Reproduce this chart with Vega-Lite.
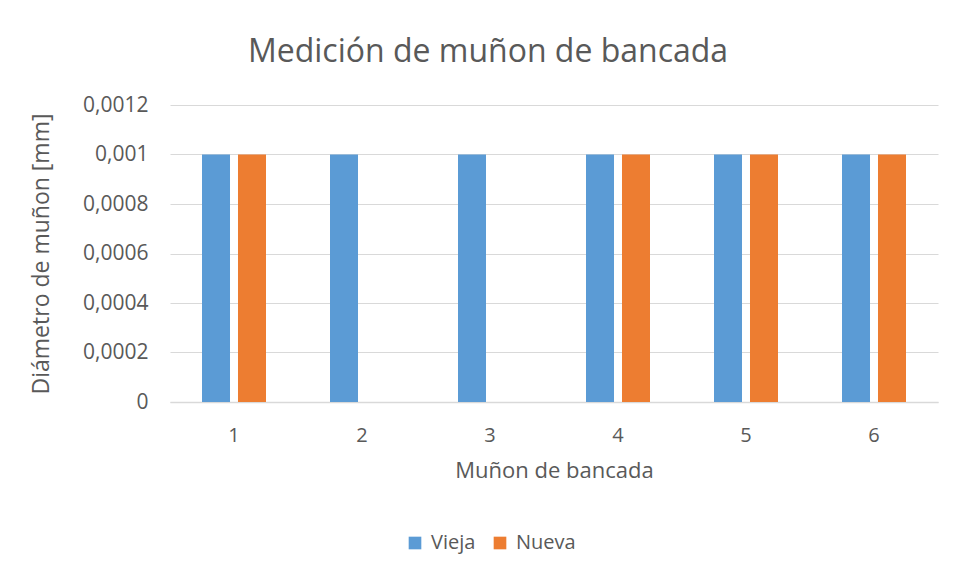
{
  "$schema": "https://vega.github.io/schema/vega-lite/v6.json",
  "autosize": {"type": "none"},
  "width": 768,
  "height": 297,
  "padding": {"left": 170, "top": 105, "right": 23, "bottom": 175},
  "background": "white",
  "title": {
    "text": "Medición de muñon de bancada",
    "fontSize": 32,
    "font": "Open Sans",
    "fontWeight": "normal",
    "color": "#595959",
    "anchor": "middle",
    "offset": 25,
    "dx": -66
  },
  "config": {
    "locale": {"number": {"decimal": ",", "thousands": ".", "grouping": [3], "currency": ["", " €"]}},
    "view": {"stroke": null},
    "font": "Open Sans"
  },
  "data": {
    "values": [
      {"muñon": "1", "serie": "Vieja", "valor": 0.001},
      {"muñon": "1", "serie": "Nueva", "valor": 0.001},
      {"muñon": "2", "serie": "Vieja", "valor": 0.001},
      {"muñon": "2", "serie": "Nueva", "valor": 0},
      {"muñon": "3", "serie": "Vieja", "valor": 0.001},
      {"muñon": "3", "serie": "Nueva", "valor": 0},
      {"muñon": "4", "serie": "Vieja", "valor": 0.001},
      {"muñon": "4", "serie": "Nueva", "valor": 0.001},
      {"muñon": "5", "serie": "Vieja", "valor": 0.001},
      {"muñon": "5", "serie": "Nueva", "valor": 0.001},
      {"muñon": "6", "serie": "Vieja", "valor": 0.001},
      {"muñon": "6", "serie": "Nueva", "valor": 0.001}
    ]
  },
  "mark": {"type": "bar"},
  "encoding": {
    "x": {
      "field": "muñon",
      "type": "nominal",
      "scale": {"paddingInner": 0.5, "paddingOuter": 0.25},
      "axis": {
        "title": "Muñon de bancada",
        "titleFontSize": 22,
        "titleFontWeight": "normal",
        "titleColor": "#595959",
        "titlePadding": 15,
        "labelAngle": 0,
        "labelFontSize": 20,
        "labelColor": "#595959",
        "labelPadding": 23,
        "ticks": false,
        "tickSize": 0,
        "domainColor": "#d9d9d9",
        "domainWidth": 1.5,
        "grid": false
      }
    },
    "xOffset": {
      "field": "serie",
      "type": "nominal",
      "sort": ["Vieja", "Nueva"],
      "scale": {"paddingInner": 0.222, "paddingOuter": 0}
    },
    "y": {
      "field": "valor",
      "type": "quantitative",
      "scale": {"domain": [0, 0.0012], "nice": false},
      "axis": {
        "title": "Diámetro de muñon [mm]",
        "titleFontSize": 23,
        "titleFontWeight": "normal",
        "titleColor": "#595959",
        "titlePadding": 29,
        "values": [0, 0.0002, 0.0004, 0.0006, 0.0008, 0.001, 0.0012],
        "format": ".4~f",
        "labelFontSize": 21,
        "labelColor": "#595959",
        "labelPadding": 22,
        "ticks": false,
        "tickSize": 0,
        "domain": false,
        "gridColor": "#d9d9d9",
        "gridWidth": 1
      }
    },
    "color": {
      "field": "serie",
      "type": "nominal",
      "sort": ["Vieja", "Nueva"],
      "scale": {"domain": ["Vieja", "Nueva"], "range": ["#5B9BD5", "#ED7D31"]},
      "legend": {
        "title": null,
        "orient": "none",
        "direction": "horizontal",
        "legendX": 235,
        "legendY": 428,
        "symbolType": "square",
        "symbolSize": 160,
        "symbolStrokeWidth": 0,
        "labelFontSize": 20,
        "labelColor": "#595959",
        "columnPadding": 14,
        "labelOffset": 6
      }
    }
  }
}
